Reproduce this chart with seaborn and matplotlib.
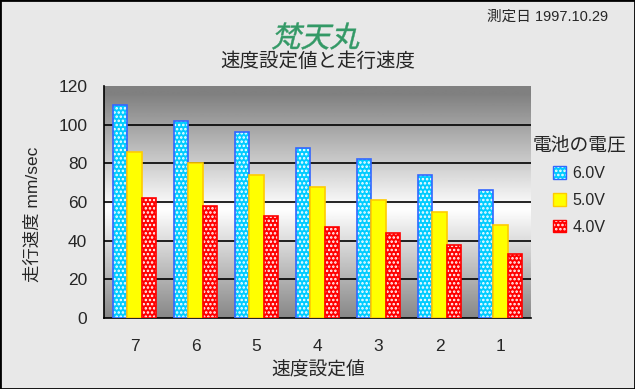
import numpy as np
import pandas as pd
import matplotlib
matplotlib.use("Agg")
import matplotlib.pyplot as plt
import matplotlib.colors as mcolors
from matplotlib.patches import Patch, Rectangle, PathPatch
from matplotlib.textpath import TextPath
from matplotlib.font_manager import FontProperties
from matplotlib.transforms import Affine2D
import seaborn as sns

# data
settings = ["7", "6", "5", "4", "3", "2", "1"]
voltages = ["6.0V", "5.0V", "4.0V"]
speed_6v = [110, 102, 96, 88, 82, 74, 66]
speed_5v = [86, 80, 74, 68, 61, 55, 48]
speed_4v = [62, 58, 53, 47, 44, 38, 33]
yticks = [0, 20, 40, 60, 80, 100, 120]

df = pd.DataFrame({
    "setting": settings * 3,
    "voltage": [voltages[0]] * 7 + [voltages[1]] * 7 + [voltages[2]] * 7,
    "speed": speed_6v + speed_5v + speed_4v,
})

face = {"6.0V": "#00ccff", "5.0V": "#ffff00", "4.0V": "#ff0000"}
edge = {"6.0V": "#3366ff", "5.0V": "#ffcc00", "4.0V": "#ff0000"}
hatch = {"6.0V": "....", "5.0V": None, "4.0V": "...."}

sns.set_style("white")
plt.rcParams["font.family"] = ["Liberation Sans", "Noto Sans CJK JP"]
plt.rcParams["hatch.linewidth"] = 1.2

fig = plt.figure(figsize=(6.35, 3.89), dpi=100, facecolor="#e8e8e8")
ax = fig.add_axes([104 / 635, 1 - 318 / 389, 427 / 635, 232 / 389])

# gray -> white -> gray background of the plot area
t = np.linspace(1, 0, 300)
g = 1 - 0.5 * np.clip(np.abs(t - 0.47) / 0.5, 0, 1)
ax.imshow(g[:, None], extent=[-0.5, 6.5, 0, 120], aspect="auto",
          cmap="gray", vmin=0, vmax=1, zorder=0)

sns.barplot(data=df, x="setting", y="speed", hue="voltage", order=settings,
            hue_order=voltages, palette=face, saturation=1, width=0.69,
            legend=False, ax=ax, zorder=3)

for cont, v in zip(ax.containers, voltages):
    for p in cont:
        p.set_edgecolor(edge[v])
        p.set_linewidth(1.2)
        if hatch[v]:
            p.set_hatch(hatch[v])
            p._hatch_color = mcolors.to_rgba("white")

for v in yticks[1:-1]:
    ax.axhline(v, color="black", lw=1.2, zorder=1)

ax.set_xlim(-0.5, 6.5)
ax.set_ylim(0, 120)
ax.set_yticks(yticks)
ax.set_xticks(range(7))
ax.set_xticks(np.arange(0.5, 6, 1), minor=True)
ax.tick_params(axis="y", direction="in", length=4, width=1, labelsize=12.5, pad=12)
ax.tick_params(axis="x", which="major", length=0, labelsize=12.5, pad=15)
ax.tick_params(axis="x", which="minor", direction="in", length=5, width=1)
for s in ["top", "right"]:
    ax.spines[s].set_visible(False)
for s in ["left", "bottom"]:
    ax.spines[s].set_color("black")
    ax.spines[s].set_linewidth(1.2)
ax.set_xlabel("")
ax.set_ylabel("")

fig.text(318 / 635, 1 - 371 / 389, "速度設定値", ha="center", va="center", fontsize=13.5)
fig.text(33 / 635, 1 - 214 / 389, "走行速度 mm/sec", ha="center", va="center",
         rotation=90, fontsize=12.5)

# slanted title (the CJK font has no italic face)
title_size = 21
tp = TextPath((0, 0), "梵天丸", size=title_size,
              prop=FontProperties(family="Noto Sans CJK JP"))
bb = tp.get_extents()
cx, cy = 318 / 100, (389 - 36) / 100
tr = (Affine2D().translate(-(bb.x0 + bb.x1) / 2, -(bb.y0 + bb.y1) / 2)
      .skew_deg(14, 0).scale(1 / 72).translate(cx, cy) + fig.dpi_scale_trans)
fig.patches.append(PathPatch(tp, transform=tr, facecolor="#339966",
                             edgecolor="#339966", lw=0.3))

fig.text(318 / 635, 1 - 62 / 389, "速度設定値と走行速度", ha="center", va="center",
         fontsize=14)
fig.text(608 / 635, 1 - 17 / 389, "測定日 1997.10.29", ha="right", va="center",
         fontsize=10.5)

handles = [Patch(facecolor=face[v], edgecolor=edge[v], hatch=hatch[v]) for v in voltages]
leg = ax.legend(handles, voltages, title="電池の電圧", loc="upper left",
                bbox_to_anchor=(518 / 635, 1 - 122 / 389),
                bbox_transform=fig.transFigure, frameon=False, fontsize=11.5,
                title_fontsize=13.5, handlelength=0.8, handleheight=0.8,
                handletextpad=0.4, labelspacing=0.75)
for h in leg.legend_handles:
    h._hatch_color = mcolors.to_rgba("white")

fig.patches.append(Rectangle((0, 0), 1, 1, transform=fig.transFigure, fill=False,
                             edgecolor="black", lw=2))

fig.savefig("out.png", dpi=100, facecolor=fig.get_facecolor())
